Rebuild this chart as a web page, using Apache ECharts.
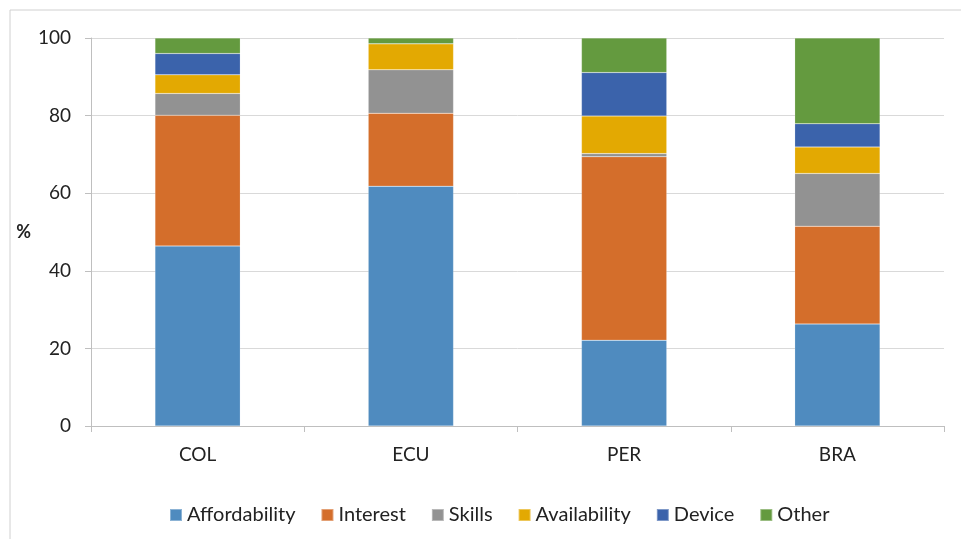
<!DOCTYPE html>
<html><head><meta charset="utf-8">
<script src="https://cdn.jsdelivr.net/npm/echarts@6/dist/echarts.min.js"></script>
<style>html,body{margin:0;padding:0;background:#fff}#c{width:961px;height:539px}</style>
</head><body><div id="c"></div>
<script>
const categories = ['COL', 'ECU', 'PER', 'BRA'];
const affordability = [46.4, 61.8, 22.1, 26.3];
const interest = [33.7, 18.8, 47.3, 25.2];
const skills = [5.6, 11.2, 0.8, 13.6];
const availability = [4.8, 6.7, 9.7, 6.8];
const device = [5.5, 0, 11.2, 6.0];
const other = [4.0, 1.5, 8.9, 22.1];
const yTicks = [0, 20, 40, 60, 80, 100];

const seriesDefs = [
  ['Affordability', affordability, '#4f8bbf'],
  ['Interest', interest, '#d46e2b'],
  ['Skills', skills, '#929292'],
  ['Availability', availability, '#e3a902'],
  ['Device', device, '#3b63ab'],
  ['Other', other, '#649a3f']
];
const font = 'Lato, "Open Sans", sans-serif';
const chart = echarts.init(document.getElementById('c'), null, {renderer: 'canvas'});
chart.setOption({
  animation: false,
  textStyle: {fontFamily: font},
  graphic: [{type: 'rect', shape: {x: 10, y: 10, width: 960, height: 540}, style: {fill: 'none', stroke: '#d0d0d0', lineWidth: 1}}],
  legend: {
    bottom: 9, left: 164, itemWidth: 12, itemHeight: 12, itemGap: 25,
    icon: 'rect',
    textStyle: {fontSize: 20, color: '#222', fontFamily: font}
  },
  grid: {left: 91, right: 17, top: 38, bottom: 113},
  xAxis: {
    type: 'category', data: categories,
    axisLine: {lineStyle: {color: '#bfbfbf'}},
    axisTick: {show: true, alignWithLabel: false, length: 6, lineStyle: {color: '#bfbfbf'}},
    axisLabel: {fontSize: 19, color: '#222', margin: 19, fontFamily: font}
  },
  yAxis: {
    type: 'value', min: 0, max: 100, interval: 20,
    name: '%', nameLocation: 'middle', nameRotate: 0, nameGap: 60,
    nameTextStyle: {fontSize: 18, fontWeight: 'bold', color: '#222', fontFamily: font},
    axisLine: {show: true, lineStyle: {color: '#bfbfbf'}},
    axisTick: {show: true, length: 6, lineStyle: {color: '#bfbfbf'}},
    axisLabel: {fontSize: 19, color: '#222', margin: 20, fontFamily: font,
      formatter: v => yTicks.includes(v) ? String(v) : ''},
    splitLine: {lineStyle: {color: '#d9d9d9'}}
  },
  series: seriesDefs.map(([name, data, color]) => ({
    name, type: 'bar', stack: 'total', data, barWidth: '40%',
    itemStyle: {color, borderColor: 'rgba(255,255,255,0.35)', borderWidth: 0.5}
  }))
});
</script></body></html>
